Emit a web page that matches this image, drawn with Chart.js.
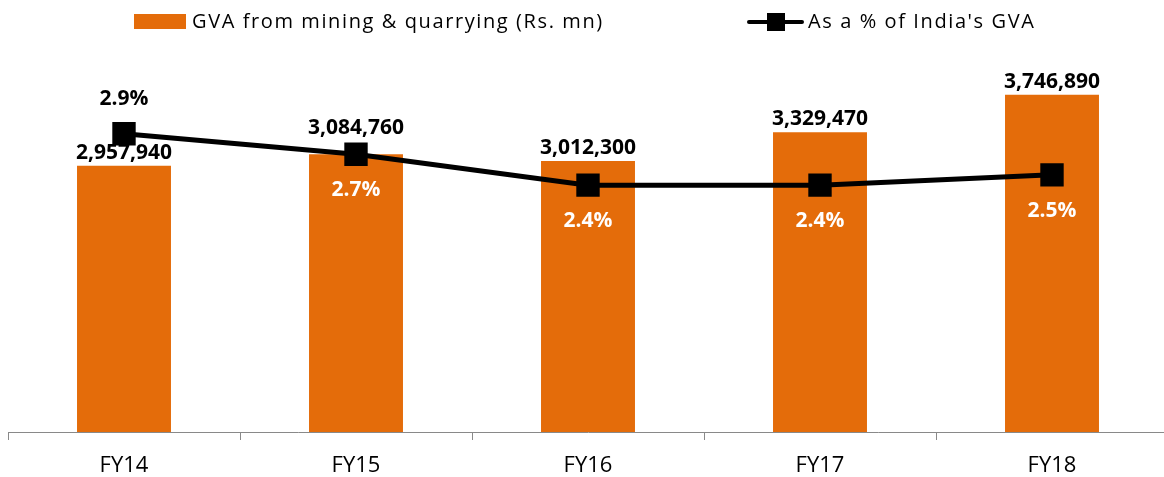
<!DOCTYPE html>
<html>
<head>
<meta charset="utf-8">
<script src="https://cdn.jsdelivr.net/npm/chart.js@4.4.1/dist/chart.umd.min.js"></script>
<style>
  html, body { margin: 0; padding: 0; background: #fff; overflow: hidden; }
  #wrap { width: 1168px; height: 477px; }
</style>
</head>
<body>
<div id="wrap"><canvas id="chart" width="1168" height="477"></canvas></div>
<script>
const categories = ['FY14', 'FY15', 'FY16', 'FY17', 'FY18']
const gvaMining = [2957940, 3084760, 3012300, 3329470, 3746890]
const shareOfIndia = [2.9, 2.7, 2.4, 2.4, 2.5]
const legendLabels = ['GVA from mining & quarrying (Rs. mn)', "As a % of India's GVA"]

const ORANGE = '#E46C0A'
const FONT = '"Open Sans", Lato, sans-serif'

const fmtNum = (v) => v.toLocaleString('en-US')
const fmtPct = (v) => v.toFixed(1) + '%'

// value labels for bars and line points
const valueLabels = {
  id: 'valueLabels',
  afterDatasetsDraw(chart) {
    const ctx = chart.ctx
    ctx.save()
    ctx.textAlign = 'center'
    ctx.textBaseline = 'middle'
    ctx.font = 'bold 21px ' + FONT

    const barMeta = chart.getDatasetMeta(0)
    const lineMeta = chart.getDatasetMeta(1)
    barMeta.data.forEach((el, i) => {
      const pt = lineMeta.data[i]
      let y = el.y - 13
      // label would sit on the marker: lift it above
      if (Math.abs(pt.y - el.y) < 8) y = pt.y - 26
      ctx.fillStyle = '#000'
      ctx.fillText(fmtNum(gvaMining[i]), el.x, y)
    })

    lineMeta.data.forEach((el, i) => {
      if (i === 0) {
        ctx.fillStyle = '#000'
        ctx.fillText(fmtPct(shareOfIndia[i]), el.x, el.y - 35)
      } else {
        ctx.fillStyle = '#fff'
        ctx.fillText(fmtPct(shareOfIndia[i]), el.x, el.y + 36)
      }
    })
    ctx.restore()
  },
}

// legend drawn on top
const topLegend = {
  id: 'topLegend',
  afterDraw(chart) {
    const ctx = chart.ctx
    ctx.save()
    ctx.font = '20px ' + FONT
    ctx.letterSpacing = '1.6px'
    ctx.textBaseline = 'middle'
    ctx.fillStyle = ORANGE
    ctx.fillRect(134, 14, 52, 15)
    ctx.fillStyle = '#000'
    ctx.fillText(legendLabels[0], 192, 22)

    ctx.strokeStyle = '#000'
    ctx.lineWidth = 4
    ctx.lineCap = 'round'
    ctx.beginPath()
    ctx.moveTo(749, 22)
    ctx.lineTo(802, 22)
    ctx.stroke()
    ctx.fillRect(767, 13, 18, 18)
    ctx.fillText(legendLabels[1], 808, 22)
    ctx.restore()
  },
}

new Chart(document.getElementById('chart'), {
  data: {
    labels: categories,
    datasets: [
      {
        type: 'bar',
        label: legendLabels[0],
        data: gvaMining,
        backgroundColor: ORANGE,
        barPercentage: 0.405,
        categoryPercentage: 1,
        yAxisID: 'y',
        order: 2,
      },
      {
        type: 'line',
        label: legendLabels[1],
        data: shareOfIndia,
        borderColor: '#000',
        borderWidth: 5,
        backgroundColor: '#000',
        pointStyle: 'rect',
        pointRadius: 13,
        pointHoverRadius: 13,
        tension: 0,
        yAxisID: 'y1',
        order: 1,
      },
    ],
  },
  options: {
    responsive: false,
    animation: false,
    layout: { autoPadding: false, padding: { top: 72, left: 8, right: 0, bottom: 0 } },
    plugins: {
      legend: { display: false },
      tooltip: { enabled: false },
    },
    scales: {
      x: {
        offset: true,
        border: { display: true, color: '#898989', width: 1 },
        grid: {
          offset: true,
          drawOnChartArea: false,
          drawTicks: true,
          tickLength: 8,
          color: '#898989',
        },
        ticks: {
          color: '#000',
          padding: 13,
          font: { family: FONT, size: 22 },
        },
        afterFit: (s) => { s.height = 45 },
      },
      y: { display: false, min: 0, max: 4000000 },
      y1: { display: false, min: 0, max: 3.5, position: 'right' },
    },
  },
  plugins: [valueLabels, topLegend],
})
</script>
</body>
</html>
